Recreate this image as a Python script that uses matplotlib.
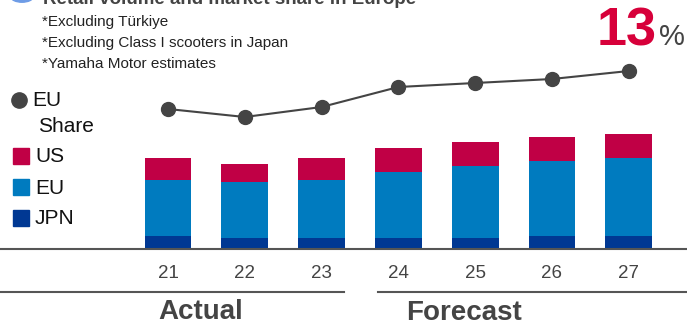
import matplotlib
matplotlib.use("Agg")
import matplotlib.pyplot as plt
from matplotlib.patches import Rectangle, Circle
from matplotlib.lines import Line2D

plt.rcParams['font.family'] = ['Liberation Sans', 'DejaVu Sans']

years = [21, 22, 23, 24, 25, 26, 27]
year_labels = ['21', '22', '23', '24', '25', '26', '27']
jpn = [13, 11, 11, 11, 11, 13, 13]
eu = [56, 56, 58, 66, 72, 75, 78]
us = [22, 18, 22, 24, 24, 24, 24]
eu_share = [11.1, 10.7, 11.2, 12.2, 12.4, 12.6, 13.0]

c_us = '#C00045'
c_eu = '#007BBF'
c_jpn = '#003893'
c_line = '#444444'
c_text = '#444444'

W, H = 687, 326
fig = plt.figure(figsize=(W / 100, H / 100), dpi=100)


def fx(px):
    return px / W


def fy(py):
    return 1 - py / H


base = 249.3
ax = fig.add_axes([0, fy(base), 1, base / H])
ax.set_xlim(21 - 168 / 76.8, 21 + 519 / 76.8)
ax.set_ylim(0, base)

b1 = [j + e for j, e in zip(jpn, eu)]
ax.bar(years, jpn, width=0.61, color=c_jpn)
ax.bar(years, eu, width=0.61, bottom=jpn, color=c_eu)
ax.bar(years, us, width=0.61, bottom=b1, color=c_us)

for s in ['top', 'left', 'right']:
    ax.spines[s].set_visible(False)
ax.spines['bottom'].set_color('#555555')
ax.spines['bottom'].set_linewidth(1.5)
ax.set_yticks([])
ax.set_xticks(years)
ax.set_xticklabels(year_labels, fontsize=13.5, color=c_text)
ax.tick_params(axis='x', length=0, pad=11)

ax2 = ax.twinx()
ax2.set_ylim(13 - (base - 71) / 20, 13 + 71 / 20)
ax2.plot(years, eu_share, color=c_line, lw=1.5, marker='o', markersize=10)
ax2.axis('off')

# title (cut off at top, as in the source)
fig.add_artist(Circle((fx(22), fy(-3)), 11 / W, color='#6E9CE6',
                      transform=fig.transFigure, clip_on=False))
fig.text(fx(43), fy(4), 'Retail volume and market share in Europe',
         fontsize=13.5, fontweight='bold', color=c_text, va='baseline')

notes = ['*Excluding Türkiye', '*Excluding Class I scooters in Japan',
         '*Yamaha Motor estimates']
for i, n in enumerate(notes):
    fig.text(fx(42), fy(22 + i * 21), n, fontsize=11, color='#222222', va='center')

fig.text(fx(657), fy(46), '13', fontsize=39, fontweight='bold', color='#D7003A',
         ha='right', va='baseline')
fig.text(fx(659), fy(45), '%', fontsize=21, color=c_text, va='baseline')

# legend
fig.add_artist(Line2D([fx(19)], [fy(100)], marker='o', markersize=11,
                      color=c_line, lw=0))
fig.text(fx(32), fy(101), 'EU', fontsize=15, color='#111111', va='center')
fig.text(fx(38), fy(127), 'Share', fontsize=15, color='#111111', va='center')
for y, col, lab in [(156, c_us, 'US'), (187, c_eu, 'EU'), (218, c_jpn, 'JPN')]:
    fig.add_artist(Rectangle((fx(13), fy(y + 8)), 16 / W, 16 / H, color=col,
                             transform=fig.transFigure))
    fig.text(fx(35), fy(y + 1), lab, fontsize=15, color='#111111', va='center')

# actual / forecast
fig.add_artist(Line2D([fx(0), fx(344)], [fy(291.7), fy(291.7)], color='#555555', lw=1.5))
fig.add_artist(Line2D([fx(378), fx(687)], [fy(291.7), fy(291.7)], color='#555555', lw=1.5))
fig.text(fx(201), fy(312), 'Actual', fontsize=20, fontweight='bold', color=c_text,
         ha='center', va='center')
fig.text(fx(464), fy(313), 'Forecast', fontsize=20, fontweight='bold', color=c_text,
         ha='center', va='center')

fig.savefig('out.png', dpi=100)
